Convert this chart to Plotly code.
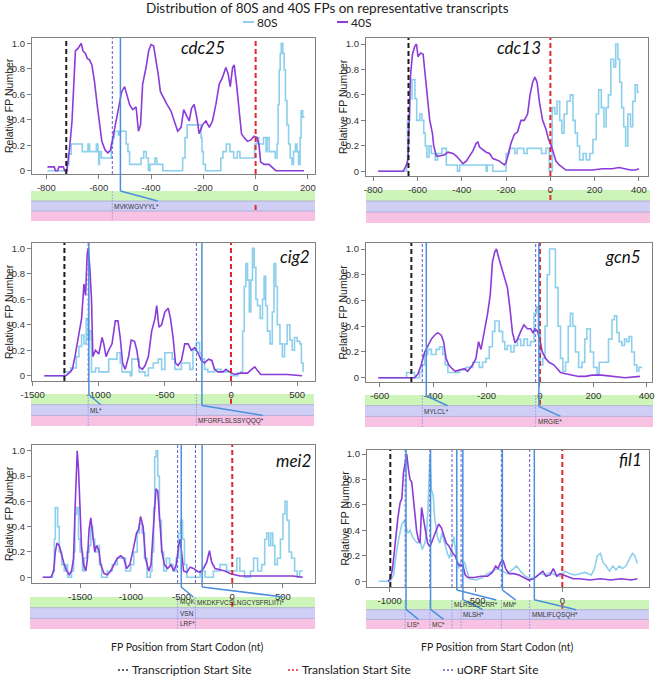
import plotly.graph_objects as go

W, H = 655, 679

# ---------------- values ----------------
genes = ['cdc25', 'cdc13', 'cig2', 'gcn5', 'mei2', 'fil1']

cdc25_40s_x = [-796, -770, -765, -757, -752, -735, -730, -722, -711, -702, -694, -689, -679, -667, -660, -651, -643, -635, -626, -616,
               -606, -597, -588, -575, -565, -555, -546, -533, -520, -512, -501, -491, -482, -470, -457, -448, -440, -432, -419, -409,
               -400, -390, -381, -372, -364, -352, -339, -324, -311, -298, -285, -275, -266, -254, -245, -235, -224, -216, -203, -190,
               -177, -165, -152, -139, -127, -114, -105, -97, -88, -82, -73, -63, -54, -44, -31, -19, -6, 6, 13, 19,
               32, 51, 60, 77, 185]
cdc25_40s_y = [0.03, 0.03, 0, 0, 0.03, 0.03, 0, 0, 0.18, 0.39, 0.73, 0.94, 0.96, 1.0, 0.94, 0.92, 0.88, 0.87, 0.83, 0.70,
               0.52, 0.36, 0.23, 0.16, 0.14, 0.16, 0.26, 0.41, 0.54, 0.62, 0.66, 0.58, 0.52, 0.48, 0.50, 0.31, 0.36, 0.68, 0.81, 0.94,
               0.99, 0.98, 0.88, 0.75, 0.62, 0.57, 0.52, 0.47, 0.39, 0.31, 0.34, 0.48, 0.44, 0.39, 0.49, 0.52, 0.41, 0.29, 0.36, 0.39,
               0.34, 0.39, 0.52, 0.68, 0.73, 0.81, 0.76, 0.66, 0.81, 0.83, 0.68, 0.44, 0.29, 0.26, 0.23, 0.24, 0.27, 0.26, 0.20, 0.07,
               0.05, 0.05, 0.03, 0, 0]
cdc25_80s_x = [-796, -720, -714, -705, -663, -641, -635, -609, -603, -600, -597, -590, -552, -546, -540, -525, -520, -495, -488, -482,
               -438, -428, -418, -410, -404, -385, -378, -355, -279, -270, -262, -209, -205, -200, -192, -133, -125, -112, -98, -84,
               -70, -60, -4, 6, 12, 30, 40, 44, 52, 75, 82, 86, 90, 94, 98, 104, 109, 114, 120, 126,
               132, 139, 145, 152, 158, 164, 170, 174, 180, 187]
cdc25_80s_y = [0, 0.05, 0.13, 0.21, 0.15, 0.21, 0.15, 0.21, 0.15, 0.05, 0.15, 0.10, 0.21, 0.26, 0.31, 0.28, 0.31, 0.21, 0.15, 0.05,
               0.10, 0.15, 0.10, 0, 0.05, 0.10, 0.05, 0, 0.10, 0.26, 0.36, 0.26, 0.15, 0.05, 0, 0.10, 0.15, 0.21, 0.15, 0.10,
               0.15, 0.10, 0.21, 0.26, 0.21, 0.26, 0.15, 0.26, 0.15, 0.10, 0.21, 0.52, 0.79, 0.92, 1.0, 0.92, 0.79, 0.55, 0.36, 0.21,
               0.10, 0.05, 0.15, 0.21, 0.15, 0.05, 0.26, 0.47, 0.42, 0.42]

cdc13_40s_x = [-778, -665, -650, -643, -632, -623, -613, -605, -598, -586, -575, -568, -560, -545, -533, -527, -515, -500, -478, -463,
               -440, -425, -410, -395, -380, -365, -350, -335, -328, -320, -305, -290, -275, -260, -245, -230, -208, -200, -188, -178,
               -163, -148, -133, -118, -103, -92, -80, -70, -60, -50, -35, -20, -8, 2, 13, 25, 40, 55, 70, 130,
               190, 235, 280, 310, 332, 362, 385, 400]
cdc13_40s_y = [0, 0, 0.05, 0.10, 0.75, 0.92, 0.98, 1.0, 0.90, 0.93, 0.92, 0.80, 0.65, 0.40, 0.30, 0.20, 0.12, 0.12, 0.13, 0.15,
               0.14, 0.12, 0.09, 0.06, 0.08, 0.12, 0.16, 0.22, 0.23, 0.19, 0.17, 0.15, 0.14, 0.10, 0.09, 0.08, 0.05, 0.07, 0.15, 0.22,
               0.29, 0.31, 0.40, 0.40, 0.45, 0.60, 0.70, 0.74, 0.70, 0.55, 0.40, 0.33, 0.25, 0.21, 0.15, 0.08, 0.05, 0.03, 0.01, 0.01,
               0.01, 0.02, 0.02, 0.03, 0.02, 0.01, 0.01, 0.02]
cdc13_80s_x = [-778, -650, -645, -635, -625, -612, -604, -590, -580, -572, -565, -558, -548, -538, -520, -510, -490, -470, -420, -410,
               -290, -285, -260, -200, -185, -160, -150, -120, -105, -40, -20, -5, 8, 20, 30, 42, 52, 62, 75, 90,
               102, 112, 122, 132, 148, 162, 178, 192, 207, 218, 230, 242, 252, 262, 273, 286, 295, 305, 313, 322,
               331, 340, 350, 362, 372, 383, 393, 400]
cdc13_80s_y = [0, 0.05, 0.40, 0.57, 0.72, 0.57, 0.40, 0.45, 0.40, 0.30, 0.20, 0.11, 0.20, 0.14, 0.09, 0.14, 0.18, 0.05, 0, 0.05,
               0, 0.05, 0, 0.14, 0.18, 0.14, 0.18, 0.14, 0.18, 0.14, 0.18, 0, 0.50, 0.45, 0.55, 0.40, 0.30, 0.45, 0.55, 0.60,
               0.40, 0.30, 0.20, 0.09, 0.14, 0.09, 0.14, 0.25, 0.45, 0.64, 0.50, 0.35, 0.50, 0.60, 0.88, 0.82, 1.0, 0.88, 0.70, 0.50,
               0.35, 0.20, 0.45, 0.35, 0.55, 0.68, 0.62, 0.62]

cig2_40s_x = [-1412, -1250, -1225, -1200, -1180, -1155, -1130, -1112, -1100, -1088, -1080, -1068, -1055, -1045, -1025, -1000, -975, -962, -945, -925,
              -900, -875, -855, -838, -820, -800, -775, -755, -730, -712, -695, -670, -650, -625, -600, -575, -562, -545, -525, -500,
              -475, -458, -438, -420, -400, -375, -350, -325, -300, -275, -250, -225, -200, -170, -145, -125, -100, -62, -38, -12,
              25, 75, 125, 155, 180, 200, 225, 275, 350, 425, 538]
cig2_40s_y = [0, 0, 0.02, 0.05, 0.15, 0.30, 0.45, 0.72, 0.63, 0.95, 1.0, 0.85, 0.60, 0.15, 0.20, 0.17, 0.30, 0.25, 0.15, 0.20,
              0.25, 0.43, 0.43, 0.30, 0.10, 0.05, 0.15, 0.28, 0.27, 0.20, 0.07, 0.05, 0.08, 0.15, 0.35, 0.45, 0.55, 0.38, 0.40, 0.50,
              0.53, 0.45, 0.30, 0.10, 0.08, 0.12, 0.25, 0.25, 0.20, 0.22, 0.18, 0.12, 0.10, 0.13, 0.12, 0.05, 0.03, 0.03, 0.05, 0.03,
              0.01, 0.02, 0.02, 0.05, 0.07, 0.04, 0.01, 0.01, 0.01, 0.01, 0]
cig2_80s_x = [-1412, -1262, -1212, -1170, -1150, -1130, -1112, -1095, -1080, -1070, -1055, -1025, -1000, -925, -862, -838, -825, -762, -750, -695,
              -650, -625, -588, -550, -525, -500, -445, -425, -375, -312, -288, -262, -238, -225, -200, -175, -125, -75, 0, 50,
              75, 88, 100, 112, 125, 138, 150, 162, 175, 188, 200, 220, 238, 250, 262, 275, 295, 312, 325, 338,
              350, 370, 388, 405, 425, 445, 462, 480, 500, 520, 532, 545]
cig2_80s_y = [0, 0.03, 0.06, 0.15, 0.23, 0.32, 0.25, 0.45, 0.28, 0.35, 0.03, 0.06, 0.03, 0.13, 0.18, 0.10, 0.03, 0, 0.13, 0.03,
              0, 0.06, 0.10, 0.13, 0.05, 0.18, 0.13, 0.05, 0.10, 0.05, 0.20, 0.26, 0.18, 0.13, 0.05, 0.03, 0.05, 0.03, 0, 0.02,
              0.03, 0.35, 0.70, 0.88, 0.75, 0.50, 0.75, 1.0, 0.85, 0.60, 0.55, 0.45, 0.60, 0.78, 0.55, 0.35, 0.25, 0.50, 0.88, 0.70,
              0.40, 0.25, 0.15, 0.25, 0.40, 0.28, 0.20, 0.30, 0.27, 0.25, 0.10, 0.03]

gcn5_40s_x = [-606, -470, -457, -445, -432, -420, -407, -395, -383, -370, -361, -352, -342, -329, -317, -302, -283, -271, -252, -240,
              -230, -221, -209, -196, -186, -178, -169, -163, -153, -143, -130, -122, -113, -103, -93, -84, -72, -60, -47, -35,
              -26, -18, -9, -1, 9, 21, 34, 52, 65, 77, 96, 120, 145, 170, 195, 232, 270, 319, 375]
gcn5_40s_y = [0, 0, 0.03, 0.10, 0.20, 0.25, 0.30, 0.33, 0.35, 0.33, 0.28, 0.15, 0.10, 0.07, 0.05, 0.06, 0.07, 0.05, 0.10, 0.15,
              0.28, 0.22, 0.35, 0.50, 0.65, 0.90, 0.98, 1.0, 0.92, 0.85, 0.75, 0.70, 0.55, 0.35, 0.27, 0.30, 0.36, 0.41, 0.38, 0.38,
              0.35, 0.38, 0.36, 0.30, 0.20, 0.15, 0.12, 0.10, 0.07, 0.04, 0.03, 0.02, 0.01, 0.01, 0.02, 0.02, 0.01, 0, 0.01]
gcn5_80s_x = [-606, -500, -470, -451, -441, -432, -420, -407, -389, -376, -364, -355, -345, -302, -277, -252, -227, -215, -202, -190,
              -178, -169, -153, -140, -132, -122, -109, -97, -84, -72, -60, -47, -35, -22, -13, -6, 2, 11, 19, 27,
              36, 58, 68, 77, 86, 96, 106, 114, 123, 133, 145, 158, 168, 176, 189, 201, 214, 222, 257, 270,
              279, 288, 297, 307, 317, 325, 334, 344, 354, 363, 371, 383]
gcn5_80s_y = [0, 0.04, 0, 0.04, 0.10, 0.18, 0.22, 0.18, 0.22, 0.24, 0.18, 0.10, 0.04, 0.06, 0.08, 0.12, 0.08, 0.12, 0.15, 0.24,
              0.36, 0.44, 0.36, 0.28, 0.22, 0.25, 0.20, 0.25, 0.30, 0.25, 0.30, 0.25, 0.28, 0.50, 0.55, 0.35, 0.10, 0.15, 0.40, 0.80,
              1.0, 0.70, 0.40, 0.15, 0.05, 0.12, 0.40, 0.50, 0.40, 0.20, 0.08, 0.12, 0.30, 0.38, 0.20, 0.08, 0.03, 0.12, 0.30, 0.45,
              0.48, 0.35, 0.28, 0.25, 0.30, 0.28, 0.32, 0.20, 0.10, 0.05, 0.08, 0.08]

mei2_40s_x = [-1869, -1788, -1761, -1745, -1729, -1706, -1683, -1657, -1631, -1608, -1585, -1565, -1552, -1539, -1529, -1516, -1503, -1487, -1467, -1444,
              -1428, -1412, -1395, -1379, -1356, -1340, -1317, -1297, -1265, -1232, -1199, -1167, -1134, -1101, -1069, -1042, -1010, -977, -944, -922,
              -905, -879, -856, -823, -801, -781, -768, -752, -735, -716, -693, -670, -637, -605, -578, -552, -529, -513, -497, -480,
              -448, -415, -382, -350, -317, -284, -252, -225, -203, -170, -121, -72, -23, 26, 75, 206, 337, 467, 598, 696]
mei2_40s_y = [0, 0, 0.05, 0.20, 0.27, 0.25, 0.18, 0.10, 0.05, 0.02, 0.05, 0.15, 0.50, 0.90, 1.0, 0.85, 0.55, 0.25, 0.10, 0.05,
              0.15, 0.38, 0.47, 0.35, 0.20, 0.25, 0.22, 0.10, 0.03, 0.02, 0.05, 0.10, 0.15, 0.17, 0.15, 0.07, 0.10, 0.22, 0.35, 0.38,
              0.48, 0.40, 0.15, 0.05, 0.10, 0.35, 0.55, 0.70, 0.68, 0.45, 0.20, 0.10, 0.07, 0.10, 0.05, 0.10, 0.25, 0.30, 0.20, 0.05,
              0.04, 0.08, 0.07, 0.05, 0.04, 0.07, 0.12, 0.21, 0.12, 0.07, 0.06, 0.05, 0.03, 0.02, 0.01, 0.01, 0.01, 0.01, 0.01, 0]
mei2_80s_x = [-1869, -1771, -1755, -1745, -1722, -1706, -1683, -1657, -1641, -1624, -1585, -1565, -1552, -1533, -1516, -1500, -1477, -1461, -1435, -1412,
              -1395, -1376, -1356, -1330, -1310, -1288, -1232, -1183, -1134, -1052, -1003, -971, -938, -915, -889, -866, -840, -807, -791, -775,
              -765, -752, -735, -719, -699, -676, -650, -618, -585, -552, -529, -510, -490, -471, -448, -317, -268, -186, -121, -56,
              10, 45, 75, 120, 180, 210, 250, 290, 320, 340, 360, 380, 400, 420, 445, 475, 500, 520, 540, 560,
              585, 615, 640, 665, 696]
mei2_80s_y = [0, 0.05, 0.30, 0.55, 0.40, 0.20, 0.10, 0.05, 0.10, 0, 0.05, 0.20, 0.50, 0.55, 0.30, 0.20, 0.05, 0.15, 0.20, 0.25,
              0.40, 0.30, 0.20, 0.25, 0.10, 0, 0.05, 0.10, 0.15, 0.05, 0.10, 0.20, 0.35, 0.42, 0.35, 0.15, 0, 0.05, 0.20, 0.55,
              0.95, 1.0, 0.80, 0.45, 0.20, 0.05, 0.15, 0.10, 0.05, 0.15, 0.35, 0.45, 0.30, 0.10, 0, 0.05, 0, 0.05, 0.10, 0.05,
              0.05, 0.15, 0.05, 0, 0.05, 0.15, 0.05, 0.10, 0.30, 0.35, 0.25, 0.35, 0.25, 0.10, 0.15, 0.30, 0.50, 0.60, 0.45, 0.20,
              0.15, 0.05, 0, 0.05, 0.05]

fil1_40s_x = [-1010, -996, -983, -968, -952, -939, -929, -920, -910, -901, -891, -882, -872, -863, -853, -844, -834, -824, -815, -805,
              -792, -780, -767, -745, -729, -716, -700, -685, -672, -658, -647, -634, -620, -605, -590, -576, -563, -548, -510, -471,
              -433, -405, -386, -372, -357, -342, -328, -309, -281, -252, -223, -195, -166, -137, -113, -94, -71, -52, -32, -13,
              6, 34, 63, 100, 160, 220, 280, 340, 400, 435]
fil1_40s_y = [0, 0.02, 0.10, 0.30, 0.50, 0.62, 0.65, 0.85, 0.95, 1.0, 0.88, 0.80, 0.78, 0.65, 0.55, 0.40, 0.33, 0.30, 0.58, 0.50,
              0.38, 0.30, 0.27, 0.35, 0.40, 0.45, 0.42, 0.35, 0.30, 0.28, 0.25, 0.22, 0.20, 0.14, 0.12, 0.13, 0.05, 0.03, 0.03, 0.04,
              0.04, 0.07, 0.12, 0.10, 0.15, 0.16, 0.10, 0.06, 0.06, 0.05, 0.03, 0.01, 0.02, 0.05, 0.08, 0.04, 0.05, 0.10, 0.04, 0.06,
              0.05, 0.04, 0.02, 0.02, 0.01, 0.02, 0.01, 0.02, 0.01, 0.02]
fil1_80s_x = [-1063, -996, -977, -968, -958, -945, -929, -914, -905, -895, -882, -868, -853, -838, -824, -811, -796, -786, -777, -767,
              -758, -748, -739, -723, -710, -697, -681, -666, -653, -639, -628, -614, -601, -586, -567, -552, -538, -500, -462, -433,
              -405, -376, -347, -319, -290, -265, -242, -214, -185, -156, -128, -99, -71, -42, -13, 15, 44, 72, 130, 168,
              187, 202, 221, 235, 254, 273, 292, 311, 330, 349, 368, 387, 406, 420, 435]
fil1_80s_y = [0, 0, 0.05, 0.15, 0.25, 0.35, 0.45, 0.48, 0.42, 0.38, 0.40, 0.35, 0.32, 0.30, 0.32, 0.25, 0.30, 0.38, 0.60, 0.98,
              0.72, 0.68, 0.50, 0.35, 0.30, 0.38, 0.30, 0.22, 0.18, 0.28, 0.35, 0.20, 0.10, 0.16, 0.15, 0.08, 0.02, 0.01, 0.03, 0.06,
              0.08, 0.10, 0.08, 0.06, 0.09, 0.12, 0.08, 0.04, 0.02, 0.03, 0.06, 0.05, 0.07, 0.05, 0.04, 0.08, 0.06, 0.05, 0.07, 0.05,
              0.10, 0.20, 0.22, 0.15, 0.12, 0.08, 0.12, 0.09, 0.12, 0.10, 0.12, 0.17, 0.22, 0.20, 0.14]

s40_x = [cdc25_40s_x, cdc13_40s_x, cig2_40s_x, gcn5_40s_x, mei2_40s_x, fil1_40s_x]
s40_y = [cdc25_40s_y, cdc13_40s_y, cig2_40s_y, gcn5_40s_y, mei2_40s_y, fil1_40s_y]
s80_x = [cdc25_80s_x, cdc13_80s_x, cig2_80s_x, gcn5_80s_x, mei2_80s_x, fil1_80s_x]
s80_y = [cdc25_80s_y, cdc13_80s_y, cig2_80s_y, gcn5_80s_y, mei2_80s_y, fil1_80s_y]
s80_shape = ['hv', 'hv', 'hv', 'hv', 'hv', 'linear']

tss = [-724, -641, -1260, -482, None, -996]          # transcription start
cds_frame = [1, 0, 0, 0, 0, 0]                        # frame of the main ORF
uorf_start = [[-548], [], [-1080, -262], [-441, -16], [-539, -363],
              [-910, -767, -639, -586, -353, -189]]
uorf_line = [[-517], [], [-1075, -220], [-426, -4], [-503, -297],
             [-905, -763, -611, -576, -347, -162]]
uorf_label = [['MVKWGVYYL*'], [], ['ML*', 'MFGRFLSLSSYQQQ*'], ['MYLCL*', 'MRGIE*'],
              ['MQK|VSN|LRF*', 'MKDKFVCSLNGCYSFRLIITI*'],
              ['LIS*', 'MC*', 'MLRSSSCRR*', 'MLSH*', 'MM*', 'MMLIFLQSQH*']]
uorf_frame = [[1], [], [1, 2], [1, 2], [0, 0], [2, 2, 0, 1, 0, 1]]

x_ticks = [[-800, -600, -400, -200, 0, 200], [-800, -600, -400, -200, 0, 200, 400],
           [-1500, -1000, -500, 0, 500], [-600, -400, -200, 0, 200, 400],
           [-1500, -1000, -500, 0, 500], [-1000, -500, 0]]
y_ticks = [0, 0.2, 0.4, 0.6, 0.8, 1.0]
y_tick_text = ['0', '0.2', '0.4', '0.6', '0.8', '1.0']

# ---------------- layout (pixels) ----------------
plot_box = [(32, 315, 38, 174), (366, 648, 38, 176), (32, 315, 243, 381),
            (366, 652, 243, 382), (32, 315, 445, 583), (367, 649, 450, 587)]
x_range = [(-855, 227), (-833, 441), (-1505, 635), (-652, 420), (-1975, 816), (-1131, 502)]
y_zero_px = [170.7, 171.3, 375.7, 377.7, 577.3, 581.3]
y_one_px = [43.3, 44.0, 248.3, 249.0, 450.7, 454.0]
band_box = [(31, 315, 191, 10), (366, 650, 190, 11), (31, 314, 394, 10.7),
            (365, 653, 395, 10.7), (30, 315, 597, 10.7), (366, 649, 600, 9.7)]
gene_pos = [(203, 48, 'center'), (519, 48, 'center'), (311, 256, 'right'),
            (642, 256, 'right'), (312, 460, 'right'), (643, 459, 'right')]

C80 = '#8dcfec'
C40 = '#8a3bd8'
LEAD = '#4a8fdc'
UORF = '#5a5ad6'
RED = '#e0282e'
BAND_COLORS = ['#cdf5b9', '#cfcff6', '#f8c3e3']
SANS = 'Liberation Sans, Arial, sans-serif'
HUM = 'Lato, Open Sans, sans-serif'

AW = {'A': 667, 'B': 667, 'C': 722, 'D': 722, 'E': 667, 'F': 611, 'G': 778, 'H': 722,
      'I': 278, 'K': 667, 'L': 556, 'M': 833, 'N': 722, 'Q': 778, 'R': 722, 'S': 667,
      'T': 611, 'V': 667, 'W': 944, 'Y': 667, '*': 389}
BAND_FONT = 6.5


def text_w(s, size):
    return sum(AW.get(c, 600) for c in s) * size / 1000


def py(p):
    return 1 - p / H


def to_px(i, x):
    x0, x1 = plot_box[i][0], plot_box[i][1]
    r0, r1 = x_range[i]
    return x0 + (x - r0) / (r1 - r0) * (x1 - x0)


def note(x, y, text, size, family=HUM, color='#222', xanchor='center', **kw):
    return dict(x=x / W, y=py(y), xref='paper', yref='paper', text=text, showarrow=False,
                xanchor=xanchor, yanchor='middle', borderpad=0,
                font=dict(family=family, size=size, color=color), **kw)


fig = go.Figure()
shapes = []
annotations = []
layout = {}

for i, gene in enumerate(genes):
    n = '' if i == 0 else str(i + 1)
    x0, x1, yt, yb = plot_box[i]
    scale = y_zero_px[i] - y_one_px[i]
    y_lo = -(yb - y_zero_px[i]) / scale
    y_hi = 1 + (y_one_px[i] - yt) / scale

    fig.add_trace(go.Scatter(x=s80_x[i], y=s80_y[i], mode='lines', line_shape=s80_shape[i],
                             line=dict(color=C80, width=1.6), xaxis='x' + n, yaxis='y' + n,
                             showlegend=False, hoverinfo='skip'))
    fig.add_trace(go.Scatter(x=s40_x[i], y=s40_y[i], mode='lines',
                             line=dict(color=C40, width=1.6), xaxis='x' + n, yaxis='y' + n,
                             showlegend=False, hoverinfo='skip'))

    axis_common = dict(showline=True, linecolor='#808080', linewidth=1.2, mirror=True,
                       showgrid=False, zeroline=False, ticks='outside', ticklen=4,
                       tickcolor='#808080', automargin=False,
                       tickfont=dict(family=SANS, size=9.5, color='#333'))
    layout['xaxis' + n] = dict(axis_common, domain=[x0 / W, x1 / W], range=list(x_range[i]),
                               anchor='y' + n, tickvals=x_ticks[i],
                               ticktext=[str(v) for v in x_ticks[i]])
    layout['yaxis' + n] = dict(axis_common, domain=[py(yb), py(yt)], range=[y_lo, y_hi],
                               anchor='x' + n, tickvals=y_ticks, ticktext=y_tick_text)

    # vertical markers inside the plot
    def vline(x, color, width, dash):
        return dict(type='line', xref='x' + n, yref='y' + n + ' domain', x0=x, x1=x, y0=0, y1=1,
                    line=dict(color=color, width=width, dash=dash))
    if tss[i] is not None:
        shapes.append(vline(tss[i], '#1e1e1e', 2, '5px,3px'))
    for s in uorf_start[i]:
        shapes.append(vline(s, UORF, 1, '3px,2px'))
    shapes.append(vline(0, RED, 2, '5px,3px'))

    # reading-frame bands
    bx0, bx1, bt, bh = band_box[i]
    for f in range(3):
        shapes.append(dict(type='rect', xref='paper', yref='paper', x0=bx0 / W, x1=bx1 / W,
                           y0=py(bt + (f + 1) * bh), y1=py(bt + f * bh),
                           fillcolor=BAND_COLORS[f], line=dict(width=0), layer='below'))
    for f in (1, 2):
        shapes.append(dict(type='line', xref='paper', yref='paper', x0=bx0 / W, x1=bx1 / W,
                           y0=py(bt + f * bh), y1=py(bt + f * bh),
                           line=dict(color='#a9a3d3', width=0.8)))
    for s in uorf_start[i]:
        xs = to_px(i, s) / W
        shapes.append(dict(type='line', xref='paper', yref='paper', x0=xs, x1=xs,
                           y0=py(bt), y1=py(bt + 3 * bh),
                           line=dict(color='#a7a0e6', width=1, dash='2px,1px')))
    xr = to_px(i, 0) / W
    fy = bt + cds_frame[i] * bh
    shapes.append(dict(type='line', xref='paper', yref='paper', x0=xr, x1=xr,
                       y0=py(fy + bh - 1), y1=py(fy + 1),
                       line=dict(color=RED, width=2, dash='5px,3px')))

    # uORF labels and leader lines
    for s, stop, lab, fr in zip(uorf_start[i], uorf_line[i], uorf_label[i], uorf_frame[i]):
        left = to_px(i, s) + 1
        parts = lab.split('|')
        for k, part in enumerate(parts):
            annotations.append(note(left, bt + (fr + k + 0.5) * bh, part, BAND_FONT,
                                    family=SANS, color='#333', xanchor='left'))
        ty = bt + fr * bh
        ex = left + text_w(parts[0], BAND_FONT)
        sx = to_px(i, stop)
        knee = ty - 10
        shapes.append(dict(type='line', xref='paper', yref='paper', x0=sx / W, x1=sx / W,
                           y0=py(yt), y1=py(knee), line=dict(color=LEAD, width=1.5)))
        shapes.append(dict(type='line', xref='paper', yref='paper', x0=sx / W, x1=ex / W,
                           y0=py(knee), y1=py(ty), line=dict(color=LEAD, width=1.5)))

    # gene name and y title
    gx, gy, ga = gene_pos[i]
    annotations.append(note(gx, gy, '<i>%s</i>' % gene, 17, color='#111', xanchor=ga))
    annotations.append(note(x0 - 23, (yt + yb) / 2, 'Relative FP Number', 10.5,
                            family=SANS, textangle=-90))

# x titles
for cx in (187, 497):
    annotations.append(note(cx, 647, 'FP Position from Start Codon (nt)', 10.5))

# title and series legend
annotations.append(note(327, 8, 'Distribution of 80S and 40S FPs on representative transcripts', 13.5))
for lx, name, col in ((243, '80S', C80), (337, '40S', C40)):
    shapes.append(dict(type='line', xref='paper', yref='paper', x0=lx / W, x1=(lx + 11) / W,
                       y0=py(22), y1=py(22), line=dict(color=col, width=2)))
    annotations.append(note(lx + 13, 22.5, name, 12, xanchor='left'))

# line-type legend
for lx, name, col in ((118, 'Transcription Start Site', '#333'),
                      (288, 'Translation Start Site', RED),
                      (443, 'uORF Start Site', UORF)):
    shapes.append(dict(type='line', xref='paper', yref='paper', x0=lx / W, x1=(lx + 12) / W,
                       y0=py(670), y1=py(670), line=dict(color=col, width=1.5, dash='2px,2px')))
    annotations.append(note(lx + 13, 669.5, name, 12, xanchor='left'))

fig.update_layout(width=W, height=H, margin=dict(l=0, r=0, t=0, b=0, autoexpand=False),
                  template='none', paper_bgcolor='white', plot_bgcolor='white', showlegend=False,
                  shapes=shapes, annotations=annotations, **layout)

fig.write_html("out.html", config={'displayModeBar': False},
               post_script="document.body.style.margin='0';")
